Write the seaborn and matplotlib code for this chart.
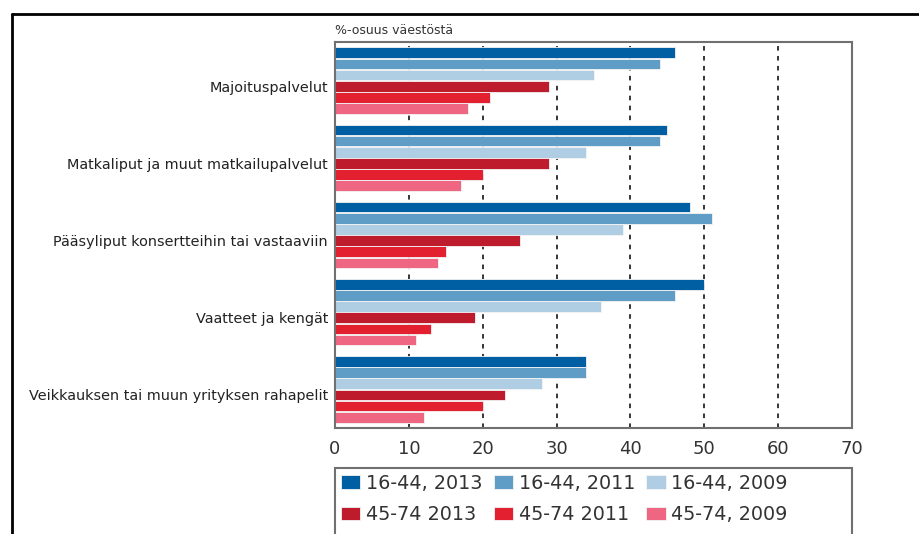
import matplotlib
matplotlib.use('Agg')
import matplotlib.pyplot as plt
from matplotlib.lines import Line2D
from matplotlib.patches import Rectangle
import pandas as pd
import seaborn as sns

# Data
kategoriat = ['Majoituspalvelut',
              'Matkaliput ja muut matkailupalvelut',
              'Pääsyliput konsertteihin tai vastaaviin',
              'Vaatteet ja kengät',
              'Veikkauksen tai muun yrityksen rahapelit']
sarjat = ['16-44, 2013', '16-44, 2011', '16-44, 2009',
          '45-74 2013', '45-74 2011', '45-74, 2009']
nuoret_2013 = [46, 45, 48, 50, 34]
nuoret_2011 = [44, 44, 51, 46, 34]
nuoret_2009 = [35, 34, 39, 36, 28]
vanhat_2013 = [29, 29, 25, 19, 23]
vanhat_2011 = [21, 20, 15, 13, 20]
vanhat_2009 = [18, 17, 14, 11, 12]
varit = ['#005ea3', '#5f9dc6', '#afcde3', '#be1b2c', '#e2202f', '#ee6682']

arvot = [nuoret_2013, nuoret_2011, nuoret_2009, vanhat_2013, vanhat_2011, vanhat_2009]
rivit = []
for nimi, sarja in zip(sarjat, arvot):
    for kat, v in zip(kategoriat, sarja):
        rivit.append({'kategoria': kat, 'sarja': nimi, 'osuus': v})
df = pd.DataFrame(rivit)

sns.set_theme(style='white')
plt.rcParams['font.family'] = ['DejaVu Sans']

fig = plt.figure(figsize=(9.2, 5.34), dpi=100)
ax = fig.add_axes([335 / 920, 1 - 428 / 534, 517 / 920, 386 / 534])

leveys = 0.866
sns.barplot(data=df, y='kategoria', x='osuus', hue='sarja', order=kategoriat,
            hue_order=sarjat, palette=varit, saturation=1, width=leveys,
            gap=0.04, orient='h', ax=ax, legend=True,
            edgecolor='#f4f4f4', linewidth=0.6)

ax.set_xlim(0, 70)
ax.set_xticks(range(0, 71, 10))
ax.set_xlabel('')
ax.set_ylabel('')

# kategoriat kohdistetaan neljännen palkin kohdalle kuten alkuperäisessä
siirto = leveys / 6 / 2
ax.set_yticks([i + siirto for i in range(len(kategoriat))])
ax.set_yticklabels(kategoriat)

ax.tick_params(axis='y', length=0, pad=5, labelsize=10.4, labelcolor='#222222')
ax.tick_params(axis='x', length=0, pad=9, labelsize=13, labelcolor='#333333')

ax.grid(axis='x', color='black', linestyle=(0, (3, 3.5)), linewidth=1.1)
ax.set_axisbelow(True)
for s in ax.spines.values():
    s.set_color('#707070')
    s.set_linewidth(1.5)

ax.text(0, 1.012, '%-osuus väestöstä', transform=ax.transAxes, fontsize=9,
        color='#333333', ha='left', va='bottom')

# selite kuvan alle, rivit: ikäryhmät
kahvat, nimet = ax.get_legend_handles_labels()
jarjestys = [0, 3, 1, 4, 2, 5]
ax.legend([kahvat[i] for i in jarjestys], [nimet[i] for i in jarjestys],
          ncol=3, loc='upper left', bbox_to_anchor=(0, -0.1036),
          borderaxespad=0, borderpad=0.3, frameon=False, fontsize=13.8,
          handlelength=1.0, handleheight=0.7, handletextpad=0.3,
          columnspacing=0.6, labelspacing=0.65, labelcolor='#333333')
ax.add_patch(Rectangle((0, -0.32), 1, 0.2164, transform=ax.transAxes,
                       fill=False, edgecolor='#707070', linewidth=1.5,
                       clip_on=False))

# kehys
fig.add_artist(Line2D([12 / 920, 1], [1 - 13.5 / 534] * 2, color='black', lw=2))
fig.add_artist(Line2D([12 / 920] * 2, [0, 1 - 13.5 / 534], color='black', lw=2))

fig.savefig('out.png', dpi=100)
